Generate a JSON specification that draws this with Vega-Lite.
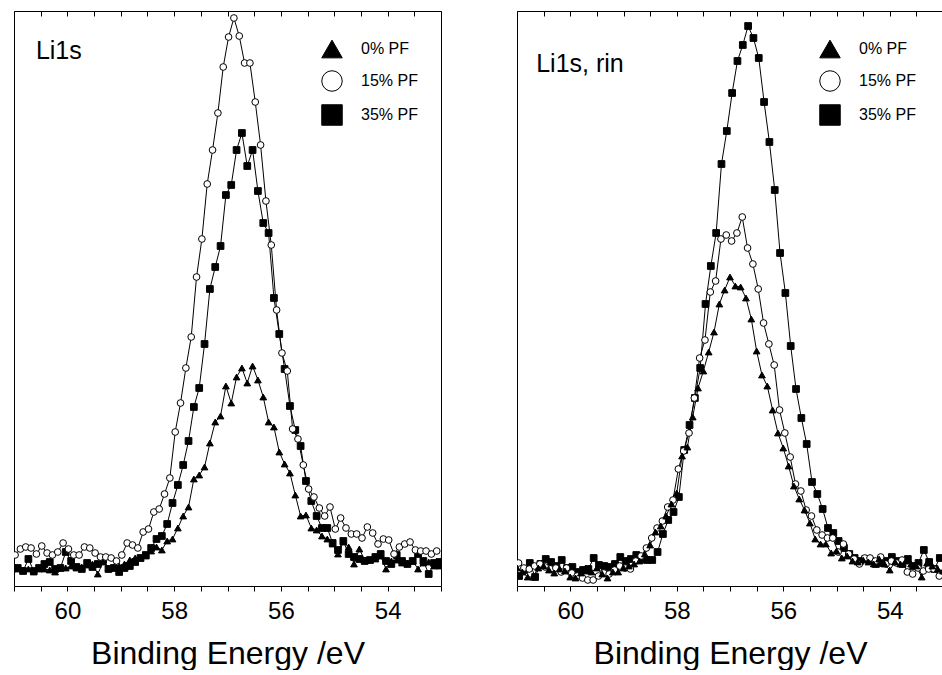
{
"$schema": "https://vega.github.io/schema/vega-lite/v6.json",
"padding": {"left": 13, "top": 10, "right": 0, "bottom": 0},
"background": "white",
"spacing": 76,
"bounds": "flush",
"config": {"view": {"stroke": "black", "strokeWidth": 1}, "font": "Liberation Sans"},
"data": {"values": [
{"p":"L","s":"0% PF","e":61.03,"v":17},{"p":"L","s":"0% PF","e":60.93,"v":17},{"p":"L","s":"0% PF","e":60.83,"v":16},{"p":"L","s":"0% PF","e":60.73,"v":17},{"p":"L","s":"0% PF","e":60.63,"v":14},{"p":"L","s":"0% PF","e":60.53,"v":17},{"p":"L","s":"0% PF","e":60.43,"v":17},{"p":"L","s":"0% PF","e":60.33,"v":16},{"p":"L","s":"0% PF","e":60.23,"v":14},{"p":"L","s":"0% PF","e":60.13,"v":18},
{"p":"L","s":"0% PF","e":60.03,"v":18},{"p":"L","s":"0% PF","e":59.93,"v":20},{"p":"L","s":"0% PF","e":59.83,"v":18},{"p":"L","s":"0% PF","e":59.73,"v":19},{"p":"L","s":"0% PF","e":59.63,"v":21},{"p":"L","s":"0% PF","e":59.53,"v":22},{"p":"L","s":"0% PF","e":59.43,"v":12},{"p":"L","s":"0% PF","e":59.33,"v":24},{"p":"L","s":"0% PF","e":59.23,"v":18},{"p":"L","s":"0% PF","e":59.13,"v":19},
{"p":"L","s":"0% PF","e":59.03,"v":20},{"p":"L","s":"0% PF","e":58.93,"v":22},{"p":"L","s":"0% PF","e":58.83,"v":26},{"p":"L","s":"0% PF","e":58.73,"v":28},{"p":"L","s":"0% PF","e":58.63,"v":28},{"p":"L","s":"0% PF","e":58.53,"v":30},{"p":"L","s":"0% PF","e":58.43,"v":35},{"p":"L","s":"0% PF","e":58.33,"v":39},{"p":"L","s":"0% PF","e":58.23,"v":36},{"p":"L","s":"0% PF","e":58.13,"v":45},
{"p":"L","s":"0% PF","e":58.03,"v":47},{"p":"L","s":"0% PF","e":57.93,"v":58},{"p":"L","s":"0% PF","e":57.83,"v":70},{"p":"L","s":"0% PF","e":57.73,"v":79},{"p":"L","s":"0% PF","e":57.63,"v":107},{"p":"L","s":"0% PF","e":57.53,"v":111},{"p":"L","s":"0% PF","e":57.43,"v":119},{"p":"L","s":"0% PF","e":57.33,"v":143},{"p":"L","s":"0% PF","e":57.23,"v":164},{"p":"L","s":"0% PF","e":57.13,"v":170},
{"p":"L","s":"0% PF","e":57.03,"v":200},{"p":"L","s":"0% PF","e":56.93,"v":183},{"p":"L","s":"0% PF","e":56.83,"v":209},{"p":"L","s":"0% PF","e":56.73,"v":218},{"p":"L","s":"0% PF","e":56.63,"v":203},{"p":"L","s":"0% PF","e":56.53,"v":220},{"p":"L","s":"0% PF","e":56.43,"v":206},{"p":"L","s":"0% PF","e":56.33,"v":189},{"p":"L","s":"0% PF","e":56.23,"v":164},{"p":"L","s":"0% PF","e":56.13,"v":159},
{"p":"L","s":"0% PF","e":56.03,"v":134},{"p":"L","s":"0% PF","e":55.93,"v":122},{"p":"L","s":"0% PF","e":55.83,"v":113},{"p":"L","s":"0% PF","e":55.73,"v":91},{"p":"L","s":"0% PF","e":55.63,"v":70},{"p":"L","s":"0% PF","e":55.53,"v":71},{"p":"L","s":"0% PF","e":55.43,"v":58},{"p":"L","s":"0% PF","e":55.33,"v":56},{"p":"L","s":"0% PF","e":55.23,"v":50},{"p":"L","s":"0% PF","e":55.13,"v":47},
{"p":"L","s":"0% PF","e":55.03,"v":42},{"p":"L","s":"0% PF","e":54.93,"v":32},{"p":"L","s":"0% PF","e":54.83,"v":44},{"p":"L","s":"0% PF","e":54.73,"v":39},{"p":"L","s":"0% PF","e":54.63,"v":22},{"p":"L","s":"0% PF","e":54.53,"v":37},{"p":"L","s":"0% PF","e":54.43,"v":26},{"p":"L","s":"0% PF","e":54.33,"v":26},{"p":"L","s":"0% PF","e":54.23,"v":27},{"p":"L","s":"0% PF","e":54.13,"v":30},
{"p":"L","s":"0% PF","e":54.03,"v":17},{"p":"L","s":"0% PF","e":53.93,"v":25},{"p":"L","s":"0% PF","e":53.83,"v":26},{"p":"L","s":"0% PF","e":53.73,"v":23},{"p":"L","s":"0% PF","e":53.63,"v":23},{"p":"L","s":"0% PF","e":53.53,"v":25},{"p":"L","s":"0% PF","e":53.43,"v":17},{"p":"L","s":"0% PF","e":53.33,"v":23},{"p":"L","s":"0% PF","e":53.23,"v":24},{"p":"L","s":"0% PF","e":53.13,"v":20},
{"p":"L","s":"0% PF","e":53.03,"v":20},{"p":"L","s":"0% PF","e":52.93,"v":20},
{"p":"L","s":"35% PF","e":61.03,"v":18},{"p":"L","s":"35% PF","e":60.93,"v":18},{"p":"L","s":"35% PF","e":60.83,"v":15},{"p":"L","s":"35% PF","e":60.73,"v":27},{"p":"L","s":"35% PF","e":60.63,"v":15},{"p":"L","s":"35% PF","e":60.53,"v":18},{"p":"L","s":"35% PF","e":60.43,"v":22},{"p":"L","s":"35% PF","e":60.33,"v":24},{"p":"L","s":"35% PF","e":60.23,"v":17},{"p":"L","s":"35% PF","e":60.13,"v":18},
{"p":"L","s":"35% PF","e":60.03,"v":34},{"p":"L","s":"35% PF","e":59.93,"v":25},{"p":"L","s":"35% PF","e":59.83,"v":19},{"p":"L","s":"35% PF","e":59.73,"v":17},{"p":"L","s":"35% PF","e":59.63,"v":23},{"p":"L","s":"35% PF","e":59.53,"v":19},{"p":"L","s":"35% PF","e":59.43,"v":22},{"p":"L","s":"35% PF","e":59.33,"v":26},{"p":"L","s":"35% PF","e":59.23,"v":17},{"p":"L","s":"35% PF","e":59.13,"v":18},
{"p":"L","s":"35% PF","e":59.03,"v":14},{"p":"L","s":"35% PF","e":58.93,"v":18},{"p":"L","s":"35% PF","e":58.83,"v":20},{"p":"L","s":"35% PF","e":58.73,"v":24},{"p":"L","s":"35% PF","e":58.63,"v":28},{"p":"L","s":"35% PF","e":58.53,"v":31},{"p":"L","s":"35% PF","e":58.43,"v":38},{"p":"L","s":"35% PF","e":58.33,"v":47},{"p":"L","s":"35% PF","e":58.23,"v":50},{"p":"L","s":"35% PF","e":58.13,"v":62},
{"p":"L","s":"35% PF","e":58.03,"v":83},{"p":"L","s":"35% PF","e":57.93,"v":101},{"p":"L","s":"35% PF","e":57.83,"v":121},{"p":"L","s":"35% PF","e":57.73,"v":145},{"p":"L","s":"35% PF","e":57.63,"v":179},{"p":"L","s":"35% PF","e":57.53,"v":198},{"p":"L","s":"35% PF","e":57.43,"v":242},{"p":"L","s":"35% PF","e":57.33,"v":297},{"p":"L","s":"35% PF","e":57.23,"v":319},{"p":"L","s":"35% PF","e":57.13,"v":340},
{"p":"L","s":"35% PF","e":57.03,"v":391},{"p":"L","s":"35% PF","e":56.93,"v":401},{"p":"L","s":"35% PF","e":56.83,"v":436},{"p":"L","s":"35% PF","e":56.73,"v":453},{"p":"L","s":"35% PF","e":56.63,"v":420},{"p":"L","s":"35% PF","e":56.53,"v":436},{"p":"L","s":"35% PF","e":56.43,"v":395},{"p":"L","s":"35% PF","e":56.33,"v":363},{"p":"L","s":"35% PF","e":56.23,"v":353},{"p":"L","s":"35% PF","e":56.13,"v":288},
{"p":"L","s":"35% PF","e":56.03,"v":252},{"p":"L","s":"35% PF","e":55.93,"v":217},{"p":"L","s":"35% PF","e":55.83,"v":180},{"p":"L","s":"35% PF","e":55.73,"v":156},{"p":"L","s":"35% PF","e":55.63,"v":140},{"p":"L","s":"35% PF","e":55.53,"v":105},{"p":"L","s":"35% PF","e":55.43,"v":85},{"p":"L","s":"35% PF","e":55.33,"v":70},{"p":"L","s":"35% PF","e":55.23,"v":58},{"p":"L","s":"35% PF","e":55.13,"v":58},
{"p":"L","s":"35% PF","e":55.03,"v":43},{"p":"L","s":"35% PF","e":54.93,"v":36},{"p":"L","s":"35% PF","e":54.83,"v":45},{"p":"L","s":"35% PF","e":54.73,"v":32},{"p":"L","s":"35% PF","e":54.63,"v":29},{"p":"L","s":"35% PF","e":54.53,"v":27},{"p":"L","s":"35% PF","e":54.43,"v":25},{"p":"L","s":"35% PF","e":54.33,"v":26},{"p":"L","s":"35% PF","e":54.23,"v":29},{"p":"L","s":"35% PF","e":54.13,"v":32},
{"p":"L","s":"35% PF","e":54.03,"v":25},{"p":"L","s":"35% PF","e":53.93,"v":22},{"p":"L","s":"35% PF","e":53.83,"v":31},{"p":"L","s":"35% PF","e":53.73,"v":25},{"p":"L","s":"35% PF","e":53.63,"v":22},{"p":"L","s":"35% PF","e":53.53,"v":25},{"p":"L","s":"35% PF","e":53.43,"v":32},{"p":"L","s":"35% PF","e":53.33,"v":25},{"p":"L","s":"35% PF","e":53.23,"v":12},{"p":"L","s":"35% PF","e":53.13,"v":23},
{"p":"L","s":"35% PF","e":53.03,"v":24},{"p":"L","s":"35% PF","e":52.93,"v":28},
{"p":"L","s":"15% PF","e":61.08,"v":35},{"p":"L","s":"15% PF","e":60.98,"v":31},{"p":"L","s":"15% PF","e":60.88,"v":37},{"p":"L","s":"15% PF","e":60.78,"v":39},{"p":"L","s":"15% PF","e":60.68,"v":38},{"p":"L","s":"15% PF","e":60.58,"v":32},{"p":"L","s":"15% PF","e":60.48,"v":40},{"p":"L","s":"15% PF","e":60.38,"v":33},{"p":"L","s":"15% PF","e":60.28,"v":31},{"p":"L","s":"15% PF","e":60.18,"v":34},
{"p":"L","s":"15% PF","e":60.08,"v":43},{"p":"L","s":"15% PF","e":59.98,"v":37},{"p":"L","s":"15% PF","e":59.88,"v":31},{"p":"L","s":"15% PF","e":59.78,"v":31},{"p":"L","s":"15% PF","e":59.68,"v":39},{"p":"L","s":"15% PF","e":59.58,"v":38},{"p":"L","s":"15% PF","e":59.48,"v":33},{"p":"L","s":"15% PF","e":59.38,"v":29},{"p":"L","s":"15% PF","e":59.28,"v":29},{"p":"L","s":"15% PF","e":59.18,"v":28},
{"p":"L","s":"15% PF","e":59.08,"v":25},{"p":"L","s":"15% PF","e":58.98,"v":31},{"p":"L","s":"15% PF","e":58.88,"v":43},{"p":"L","s":"15% PF","e":58.78,"v":41},{"p":"L","s":"15% PF","e":58.68,"v":38},{"p":"L","s":"15% PF","e":58.58,"v":54},{"p":"L","s":"15% PF","e":58.48,"v":57},{"p":"L","s":"15% PF","e":58.38,"v":74},{"p":"L","s":"15% PF","e":58.28,"v":77},{"p":"L","s":"15% PF","e":58.18,"v":92},
{"p":"L","s":"15% PF","e":58.08,"v":108},{"p":"L","s":"15% PF","e":57.98,"v":154},{"p":"L","s":"15% PF","e":57.88,"v":183},{"p":"L","s":"15% PF","e":57.78,"v":218},{"p":"L","s":"15% PF","e":57.68,"v":249},{"p":"L","s":"15% PF","e":57.58,"v":309},{"p":"L","s":"15% PF","e":57.48,"v":347},{"p":"L","s":"15% PF","e":57.38,"v":402},{"p":"L","s":"15% PF","e":57.28,"v":436},{"p":"L","s":"15% PF","e":57.18,"v":473},
{"p":"L","s":"15% PF","e":57.08,"v":519},{"p":"L","s":"15% PF","e":56.98,"v":549},{"p":"L","s":"15% PF","e":56.88,"v":568},{"p":"L","s":"15% PF","e":56.78,"v":550},{"p":"L","s":"15% PF","e":56.68,"v":523},{"p":"L","s":"15% PF","e":56.58,"v":523},{"p":"L","s":"15% PF","e":56.48,"v":484},{"p":"L","s":"15% PF","e":56.38,"v":441},{"p":"L","s":"15% PF","e":56.28,"v":385},{"p":"L","s":"15% PF","e":56.18,"v":341},
{"p":"L","s":"15% PF","e":56.08,"v":276},{"p":"L","s":"15% PF","e":55.98,"v":233},{"p":"L","s":"15% PF","e":55.88,"v":215},{"p":"L","s":"15% PF","e":55.78,"v":157},{"p":"L","s":"15% PF","e":55.68,"v":147},{"p":"L","s":"15% PF","e":55.58,"v":121},{"p":"L","s":"15% PF","e":55.48,"v":97},{"p":"L","s":"15% PF","e":55.38,"v":89},{"p":"L","s":"15% PF","e":55.28,"v":78},{"p":"L","s":"15% PF","e":55.18,"v":70},
{"p":"L","s":"15% PF","e":55.08,"v":79},{"p":"L","s":"15% PF","e":54.98,"v":57},{"p":"L","s":"15% PF","e":54.88,"v":68},{"p":"L","s":"15% PF","e":54.78,"v":58},{"p":"L","s":"15% PF","e":54.68,"v":52},{"p":"L","s":"15% PF","e":54.58,"v":52},{"p":"L","s":"15% PF","e":54.48,"v":48},{"p":"L","s":"15% PF","e":54.38,"v":59},{"p":"L","s":"15% PF","e":54.28,"v":53},{"p":"L","s":"15% PF","e":54.18,"v":42},
{"p":"L","s":"15% PF","e":54.08,"v":47},{"p":"L","s":"15% PF","e":53.98,"v":46},{"p":"L","s":"15% PF","e":53.88,"v":32},{"p":"L","s":"15% PF","e":53.78,"v":39},{"p":"L","s":"15% PF","e":53.68,"v":42},{"p":"L","s":"15% PF","e":53.58,"v":44},{"p":"L","s":"15% PF","e":53.48,"v":36},{"p":"L","s":"15% PF","e":53.38,"v":35},{"p":"L","s":"15% PF","e":53.28,"v":35},{"p":"L","s":"15% PF","e":53.18,"v":32},
{"p":"L","s":"15% PF","e":53.08,"v":35},
{"p":"R","s":"35% PF","e":61.06,"v":18},{"p":"R","s":"35% PF","e":60.96,"v":10},{"p":"R","s":"35% PF","e":60.86,"v":16},{"p":"R","s":"35% PF","e":60.76,"v":23},{"p":"R","s":"35% PF","e":60.66,"v":9},{"p":"R","s":"35% PF","e":60.56,"v":22},{"p":"R","s":"35% PF","e":60.46,"v":27},{"p":"R","s":"35% PF","e":60.36,"v":24},{"p":"R","s":"35% PF","e":60.26,"v":20},{"p":"R","s":"35% PF","e":60.16,"v":26},
{"p":"R","s":"35% PF","e":60.06,"v":18},{"p":"R","s":"35% PF","e":59.96,"v":19},{"p":"R","s":"35% PF","e":59.86,"v":14},{"p":"R","s":"35% PF","e":59.76,"v":16},{"p":"R","s":"35% PF","e":59.66,"v":17},{"p":"R","s":"35% PF","e":59.56,"v":28},{"p":"R","s":"35% PF","e":59.46,"v":21},{"p":"R","s":"35% PF","e":59.36,"v":20},{"p":"R","s":"35% PF","e":59.26,"v":19},{"p":"R","s":"35% PF","e":59.16,"v":22},
{"p":"R","s":"35% PF","e":59.06,"v":29},{"p":"R","s":"35% PF","e":58.96,"v":25},{"p":"R","s":"35% PF","e":58.86,"v":27},{"p":"R","s":"35% PF","e":58.76,"v":31},{"p":"R","s":"35% PF","e":58.66,"v":27},{"p":"R","s":"35% PF","e":58.56,"v":26},{"p":"R","s":"35% PF","e":58.46,"v":26},{"p":"R","s":"35% PF","e":58.36,"v":34},{"p":"R","s":"35% PF","e":58.26,"v":52},{"p":"R","s":"35% PF","e":58.16,"v":66},
{"p":"R","s":"35% PF","e":58.06,"v":74},{"p":"R","s":"35% PF","e":57.96,"v":89},{"p":"R","s":"35% PF","e":57.86,"v":136},{"p":"R","s":"35% PF","e":57.76,"v":161},{"p":"R","s":"35% PF","e":57.66,"v":188},{"p":"R","s":"35% PF","e":57.56,"v":218},{"p":"R","s":"35% PF","e":57.46,"v":282},{"p":"R","s":"35% PF","e":57.36,"v":320},{"p":"R","s":"35% PF","e":57.26,"v":353},{"p":"R","s":"35% PF","e":57.16,"v":422},
{"p":"R","s":"35% PF","e":57.06,"v":455},{"p":"R","s":"35% PF","e":56.96,"v":493},{"p":"R","s":"35% PF","e":56.86,"v":525},{"p":"R","s":"35% PF","e":56.76,"v":541},{"p":"R","s":"35% PF","e":56.66,"v":560},{"p":"R","s":"35% PF","e":56.56,"v":548},{"p":"R","s":"35% PF","e":56.46,"v":528},{"p":"R","s":"35% PF","e":56.36,"v":484},{"p":"R","s":"35% PF","e":56.26,"v":444},{"p":"R","s":"35% PF","e":56.16,"v":396},
{"p":"R","s":"35% PF","e":56.06,"v":333},{"p":"R","s":"35% PF","e":55.96,"v":293},{"p":"R","s":"35% PF","e":55.86,"v":240},{"p":"R","s":"35% PF","e":55.76,"v":197},{"p":"R","s":"35% PF","e":55.66,"v":168},{"p":"R","s":"35% PF","e":55.56,"v":142},{"p":"R","s":"35% PF","e":55.46,"v":104},{"p":"R","s":"35% PF","e":55.36,"v":92},{"p":"R","s":"35% PF","e":55.26,"v":77},{"p":"R","s":"35% PF","e":55.16,"v":58},
{"p":"R","s":"35% PF","e":55.06,"v":53},{"p":"R","s":"35% PF","e":54.96,"v":45},{"p":"R","s":"35% PF","e":54.86,"v":38},{"p":"R","s":"35% PF","e":54.76,"v":32},{"p":"R","s":"35% PF","e":54.66,"v":28},{"p":"R","s":"35% PF","e":54.56,"v":25},{"p":"R","s":"35% PF","e":54.46,"v":27},{"p":"R","s":"35% PF","e":54.36,"v":25},{"p":"R","s":"35% PF","e":54.26,"v":22},{"p":"R","s":"35% PF","e":54.16,"v":23},
{"p":"R","s":"35% PF","e":54.06,"v":25},{"p":"R","s":"35% PF","e":53.96,"v":29},{"p":"R","s":"35% PF","e":53.86,"v":25},{"p":"R","s":"35% PF","e":53.76,"v":22},{"p":"R","s":"35% PF","e":53.66,"v":27},{"p":"R","s":"35% PF","e":53.56,"v":20},{"p":"R","s":"35% PF","e":53.46,"v":23},{"p":"R","s":"35% PF","e":53.36,"v":36},{"p":"R","s":"35% PF","e":53.26,"v":24},{"p":"R","s":"35% PF","e":53.16,"v":17},
{"p":"R","s":"35% PF","e":53.06,"v":28},
{"p":"R","s":"15% PF","e":61.07,"v":15},{"p":"R","s":"15% PF","e":60.97,"v":23},{"p":"R","s":"15% PF","e":60.87,"v":18},{"p":"R","s":"15% PF","e":60.77,"v":17},{"p":"R","s":"15% PF","e":60.67,"v":20},{"p":"R","s":"15% PF","e":60.57,"v":22},{"p":"R","s":"15% PF","e":60.47,"v":19},{"p":"R","s":"15% PF","e":60.37,"v":17},{"p":"R","s":"15% PF","e":60.27,"v":18},{"p":"R","s":"15% PF","e":60.17,"v":14},
{"p":"R","s":"15% PF","e":60.07,"v":18},{"p":"R","s":"15% PF","e":59.97,"v":13},{"p":"R","s":"15% PF","e":59.87,"v":10},{"p":"R","s":"15% PF","e":59.77,"v":8},{"p":"R","s":"15% PF","e":59.67,"v":6},{"p":"R","s":"15% PF","e":59.57,"v":6},{"p":"R","s":"15% PF","e":59.47,"v":10},{"p":"R","s":"15% PF","e":59.37,"v":13},{"p":"R","s":"15% PF","e":59.27,"v":12},{"p":"R","s":"15% PF","e":59.17,"v":16},
{"p":"R","s":"15% PF","e":59.07,"v":20},{"p":"R","s":"15% PF","e":58.97,"v":18},{"p":"R","s":"15% PF","e":58.87,"v":17},{"p":"R","s":"15% PF","e":58.77,"v":25},{"p":"R","s":"15% PF","e":58.67,"v":30},{"p":"R","s":"15% PF","e":58.57,"v":38},{"p":"R","s":"15% PF","e":58.47,"v":48},{"p":"R","s":"15% PF","e":58.37,"v":58},{"p":"R","s":"15% PF","e":58.27,"v":65},{"p":"R","s":"15% PF","e":58.17,"v":79},
{"p":"R","s":"15% PF","e":58.07,"v":86},{"p":"R","s":"15% PF","e":57.97,"v":117},{"p":"R","s":"15% PF","e":57.87,"v":135},{"p":"R","s":"15% PF","e":57.77,"v":153},{"p":"R","s":"15% PF","e":57.67,"v":188},{"p":"R","s":"15% PF","e":57.57,"v":228},{"p":"R","s":"15% PF","e":57.47,"v":246},{"p":"R","s":"15% PF","e":57.37,"v":294},{"p":"R","s":"15% PF","e":57.27,"v":305},{"p":"R","s":"15% PF","e":57.17,"v":347},
{"p":"R","s":"15% PF","e":57.07,"v":351},{"p":"R","s":"15% PF","e":56.97,"v":345},{"p":"R","s":"15% PF","e":56.87,"v":353},{"p":"R","s":"15% PF","e":56.77,"v":369},{"p":"R","s":"15% PF","e":56.67,"v":338},{"p":"R","s":"15% PF","e":56.57,"v":322},{"p":"R","s":"15% PF","e":56.47,"v":297},{"p":"R","s":"15% PF","e":56.37,"v":263},{"p":"R","s":"15% PF","e":56.27,"v":242},{"p":"R","s":"15% PF","e":56.17,"v":221},
{"p":"R","s":"15% PF","e":56.07,"v":176},{"p":"R","s":"15% PF","e":55.97,"v":153},{"p":"R","s":"15% PF","e":55.87,"v":129},{"p":"R","s":"15% PF","e":55.77,"v":102},{"p":"R","s":"15% PF","e":55.67,"v":95},{"p":"R","s":"15% PF","e":55.57,"v":76},{"p":"R","s":"15% PF","e":55.47,"v":70},{"p":"R","s":"15% PF","e":55.37,"v":56},{"p":"R","s":"15% PF","e":55.27,"v":51},{"p":"R","s":"15% PF","e":55.17,"v":48},
{"p":"R","s":"15% PF","e":55.07,"v":48},{"p":"R","s":"15% PF","e":54.97,"v":34},{"p":"R","s":"15% PF","e":54.87,"v":42},{"p":"R","s":"15% PF","e":54.77,"v":32},{"p":"R","s":"15% PF","e":54.67,"v":27},{"p":"R","s":"15% PF","e":54.57,"v":22},{"p":"R","s":"15% PF","e":54.47,"v":28},{"p":"R","s":"15% PF","e":54.37,"v":28},{"p":"R","s":"15% PF","e":54.27,"v":25},{"p":"R","s":"15% PF","e":54.17,"v":29},
{"p":"R","s":"15% PF","e":54.07,"v":22},{"p":"R","s":"15% PF","e":53.97,"v":25},{"p":"R","s":"15% PF","e":53.87,"v":23},{"p":"R","s":"15% PF","e":53.77,"v":26},{"p":"R","s":"15% PF","e":53.67,"v":14},{"p":"R","s":"15% PF","e":53.57,"v":12},{"p":"R","s":"15% PF","e":53.47,"v":18},{"p":"R","s":"15% PF","e":53.37,"v":15},{"p":"R","s":"15% PF","e":53.27,"v":17},{"p":"R","s":"15% PF","e":53.17,"v":17},
{"p":"R","s":"15% PF","e":53.07,"v":10},
{"p":"R","s":"0% PF","e":61.1,"v":11},{"p":"R","s":"0% PF","e":61.0,"v":18},{"p":"R","s":"0% PF","e":60.9,"v":14},{"p":"R","s":"0% PF","e":60.8,"v":9},{"p":"R","s":"0% PF","e":60.7,"v":9},{"p":"R","s":"0% PF","e":60.6,"v":18},{"p":"R","s":"0% PF","e":60.5,"v":20},{"p":"R","s":"0% PF","e":60.4,"v":16},{"p":"R","s":"0% PF","e":60.3,"v":13},{"p":"R","s":"0% PF","e":60.2,"v":17},
{"p":"R","s":"0% PF","e":60.1,"v":15},{"p":"R","s":"0% PF","e":60.0,"v":9},{"p":"R","s":"0% PF","e":59.9,"v":8},{"p":"R","s":"0% PF","e":59.8,"v":13},{"p":"R","s":"0% PF","e":59.7,"v":15},{"p":"R","s":"0% PF","e":59.6,"v":14},{"p":"R","s":"0% PF","e":59.5,"v":18},{"p":"R","s":"0% PF","e":59.4,"v":12},{"p":"R","s":"0% PF","e":59.3,"v":8},{"p":"R","s":"0% PF","e":59.2,"v":14},
{"p":"R","s":"0% PF","e":59.1,"v":14},{"p":"R","s":"0% PF","e":59.0,"v":18},{"p":"R","s":"0% PF","e":58.9,"v":20},{"p":"R","s":"0% PF","e":58.8,"v":22},{"p":"R","s":"0% PF","e":58.7,"v":25},{"p":"R","s":"0% PF","e":58.6,"v":32},{"p":"R","s":"0% PF","e":58.5,"v":41},{"p":"R","s":"0% PF","e":58.4,"v":54},{"p":"R","s":"0% PF","e":58.3,"v":60},{"p":"R","s":"0% PF","e":58.2,"v":70},
{"p":"R","s":"0% PF","e":58.1,"v":82},{"p":"R","s":"0% PF","e":58.0,"v":93},{"p":"R","s":"0% PF","e":57.9,"v":130},{"p":"R","s":"0% PF","e":57.8,"v":139},{"p":"R","s":"0% PF","e":57.7,"v":169},{"p":"R","s":"0% PF","e":57.6,"v":198},{"p":"R","s":"0% PF","e":57.5,"v":215},{"p":"R","s":"0% PF","e":57.4,"v":234},{"p":"R","s":"0% PF","e":57.3,"v":254},{"p":"R","s":"0% PF","e":57.2,"v":282},
{"p":"R","s":"0% PF","e":57.1,"v":296},{"p":"R","s":"0% PF","e":57.0,"v":309},{"p":"R","s":"0% PF","e":56.9,"v":300},{"p":"R","s":"0% PF","e":56.8,"v":299},{"p":"R","s":"0% PF","e":56.7,"v":288},{"p":"R","s":"0% PF","e":56.6,"v":267},{"p":"R","s":"0% PF","e":56.5,"v":235},{"p":"R","s":"0% PF","e":56.4,"v":211},{"p":"R","s":"0% PF","e":56.3,"v":200},{"p":"R","s":"0% PF","e":56.2,"v":176},
{"p":"R","s":"0% PF","e":56.1,"v":153},{"p":"R","s":"0% PF","e":56.0,"v":138},{"p":"R","s":"0% PF","e":55.9,"v":120},{"p":"R","s":"0% PF","e":55.8,"v":100},{"p":"R","s":"0% PF","e":55.7,"v":87},{"p":"R","s":"0% PF","e":55.6,"v":76},{"p":"R","s":"0% PF","e":55.5,"v":63},{"p":"R","s":"0% PF","e":55.4,"v":47},{"p":"R","s":"0% PF","e":55.3,"v":42},{"p":"R","s":"0% PF","e":55.2,"v":42},
{"p":"R","s":"0% PF","e":55.1,"v":33},{"p":"R","s":"0% PF","e":55.0,"v":35},{"p":"R","s":"0% PF","e":54.9,"v":28},{"p":"R","s":"0% PF","e":54.8,"v":30},{"p":"R","s":"0% PF","e":54.7,"v":25},{"p":"R","s":"0% PF","e":54.6,"v":24},{"p":"R","s":"0% PF","e":54.5,"v":26},{"p":"R","s":"0% PF","e":54.4,"v":24},{"p":"R","s":"0% PF","e":54.3,"v":22},{"p":"R","s":"0% PF","e":54.2,"v":27},
{"p":"R","s":"0% PF","e":54.1,"v":22},{"p":"R","s":"0% PF","e":54.0,"v":16},{"p":"R","s":"0% PF","e":53.9,"v":24},{"p":"R","s":"0% PF","e":53.8,"v":22},{"p":"R","s":"0% PF","e":53.7,"v":25},{"p":"R","s":"0% PF","e":53.6,"v":22},{"p":"R","s":"0% PF","e":53.5,"v":20},{"p":"R","s":"0% PF","e":53.4,"v":9},{"p":"R","s":"0% PF","e":53.3,"v":23},{"p":"R","s":"0% PF","e":53.2,"v":20},
{"p":"R","s":"0% PF","e":53.1,"v":17},{"p":"R","s":"0% PF","e":53.0,"v":15}
]},
"hconcat": [
{
 "width": 427, "height": 575,
 "layer": [
  {"transform": [{"filter": "datum.p === 'L'"}],
   "mark": {"type": "line", "stroke": "black", "strokeWidth": 1, "clip": true},
   "encoding": {
    "x": {"field": "e", "type": "quantitative", "scale": {"domain": [53, 61], "reverse": true, "nice": false, "zero": false},
          "axis": {"orient": "top", "values": [53,53.5,54,54.5,55,55.5,56,56.5,57,57.5,58,58.5,59,59.5,60,60.5,61], "labels": false, "title": null, "domain": false, "grid": false, "ticks": true, "tickColor": "black", "tickWidth": 1, "tickOpacity": 1, "tickSize": -5}},
    "y": {"field": "v", "type": "quantitative", "scale": {"domain": [0, 575], "nice": false}, "axis": null},
    "detail": {"field": "s"}
   }},
  {"transform": [{"filter": "datum.p === 'L'"}],
   "mark": {"type": "point", "filled": true, "strokeWidth": 1, "size": 45, "opacity": 1, "clip": true},
   "encoding": {
    "x": {"field": "e", "type": "quantitative",
          "axis": {"orient": "bottom", "values": [53,53.5,54,54.5,55,55.5,56,56.5,57,57.5,58,58.5,59,59.5,60,60.5,61], "labelExpr": "datum.value % 2 === 0 ? format(datum.value, 'd') : ''", "title": "Binding Energy /eV", "domain": false, "grid": false, "ticks": true, "tickColor": "black", "tickWidth": 1, "tickOpacity": 1, "tickSize": 5, "labelFontSize": 24, "labelColor": "black", "labelPadding": 8, "labelFlush": false, "labelOverlap": false, "titleFontSize": 32, "titleFontWeight": "normal", "titleColor": "black", "titlePadding": 15}},
    "y": {"field": "v", "type": "quantitative", "axis": null},
    "shape": {"field": "s", "type": "nominal", "scale": {"domain": ["0% PF", "15% PF", "35% PF"], "range": ["triangle-up", "circle", "square"]},
              "legend": {"title": null, "orient": "none", "legendX": 307, "legendY": 27, "symbolSize": 420, "labelFontSize": 16, "labelColor": "black", "rowPadding": 8, "labelOffset": 18, "padding": 0, "symbolStrokeWidth": 1}},
    "fill": {"field": "s", "type": "nominal", "scale": {"domain": ["0% PF", "15% PF", "35% PF"], "range": ["black", "white", "black"]},
              "legend": {"title": null, "orient": "none", "legendX": 307, "legendY": 27, "symbolSize": 420, "labelFontSize": 16, "labelColor": "black", "rowPadding": 8, "labelOffset": 18, "padding": 0, "symbolStrokeWidth": 1}},
    "stroke": {"field": "s", "type": "nominal", "scale": {"domain": ["0% PF", "15% PF", "35% PF"], "range": ["black", "black", "black"]},
              "legend": {"title": null, "orient": "none", "legendX": 307, "legendY": 27, "symbolSize": 420, "labelFontSize": 16, "labelColor": "black", "rowPadding": 8, "labelOffset": 18, "padding": 0, "symbolStrokeWidth": 1}}
   }},
  {"data": {"values": [{"t": "Li1s"}]},
   "mark": {"type": "text", "fontSize": 25, "fontWeight": "normal", "align": "left", "baseline": "alphabetic", "fill": "black"},
   "encoding": {"text": {"field": "t"}, "x": {"datum": 60.59, "type": "quantitative", "axis": null}, "y": {"datum": 527, "type": "quantitative", "axis": null}}}
 ],
 "resolve": {"axis": {"x": "independent"}}
},
{
 "width": 426, "height": 575,
 "layer": [
  {"transform": [{"filter": "datum.p === 'R'"}],
   "mark": {"type": "line", "stroke": "black", "strokeWidth": 1, "clip": true},
   "encoding": {
    "x": {"field": "e", "type": "quantitative", "scale": {"domain": [53, 61], "reverse": true, "nice": false, "zero": false},
          "axis": {"orient": "top", "values": [53,53.5,54,54.5,55,55.5,56,56.5,57,57.5,58,58.5,59,59.5,60,60.5,61], "labels": false, "title": null, "domain": false, "grid": false, "ticks": true, "tickColor": "black", "tickWidth": 1, "tickOpacity": 1, "tickSize": -5}},
    "y": {"field": "v", "type": "quantitative", "scale": {"domain": [0, 575], "nice": false}, "axis": null},
    "detail": {"field": "s"}
   }},
  {"transform": [{"filter": "datum.p === 'R'"}],
   "mark": {"type": "point", "filled": true, "strokeWidth": 1, "size": 45, "opacity": 1, "clip": true},
   "encoding": {
    "x": {"field": "e", "type": "quantitative",
          "axis": {"orient": "bottom", "values": [53,53.5,54,54.5,55,55.5,56,56.5,57,57.5,58,58.5,59,59.5,60,60.5,61], "labelExpr": "datum.value % 2 === 0 ? format(datum.value, 'd') : ''", "title": "Binding Energy /eV", "domain": false, "grid": false, "ticks": true, "tickColor": "black", "tickWidth": 1, "tickOpacity": 1, "tickSize": 5, "labelFontSize": 24, "labelColor": "black", "labelPadding": 8, "labelFlush": false, "labelOverlap": false, "titleFontSize": 32, "titleFontWeight": "normal", "titleColor": "black", "titlePadding": 15}},
    "y": {"field": "v", "type": "quantitative", "axis": null},
    "shape": {"field": "s", "type": "nominal", "scale": {"domain": ["0% PF", "15% PF", "35% PF"], "range": ["triangle-up", "circle", "square"]},
              "legend": {"title": null, "orient": "none", "legendX": 302, "legendY": 27, "symbolSize": 420, "labelFontSize": 16, "labelColor": "black", "rowPadding": 8, "labelOffset": 18, "padding": 0, "symbolStrokeWidth": 1}},
    "fill": {"field": "s", "type": "nominal", "scale": {"domain": ["0% PF", "15% PF", "35% PF"], "range": ["black", "white", "black"]},
              "legend": {"title": null, "orient": "none", "legendX": 302, "legendY": 27, "symbolSize": 420, "labelFontSize": 16, "labelColor": "black", "rowPadding": 8, "labelOffset": 18, "padding": 0, "symbolStrokeWidth": 1}},
    "stroke": {"field": "s", "type": "nominal", "scale": {"domain": ["0% PF", "15% PF", "35% PF"], "range": ["black", "black", "black"]},
              "legend": {"title": null, "orient": "none", "legendX": 302, "legendY": 27, "symbolSize": 420, "labelFontSize": 16, "labelColor": "black", "rowPadding": 8, "labelOffset": 18, "padding": 0, "symbolStrokeWidth": 1}}
   }},
  {"data": {"values": [{"t": "Li1s, rin"}]},
   "mark": {"type": "text", "fontSize": 25, "fontWeight": "normal", "align": "left", "baseline": "alphabetic", "fill": "black"},
   "encoding": {"text": {"field": "t"}, "x": {"datum": 60.64, "type": "quantitative", "axis": null}, "y": {"datum": 514, "type": "quantitative", "axis": null}}}
 ],
 "resolve": {"axis": {"x": "independent"}}
}
],
"resolve": {"scale": {"shape": "independent", "fill": "independent", "stroke": "independent"}, "legend": {"shape": "independent", "fill": "independent", "stroke": "independent"}}
}
